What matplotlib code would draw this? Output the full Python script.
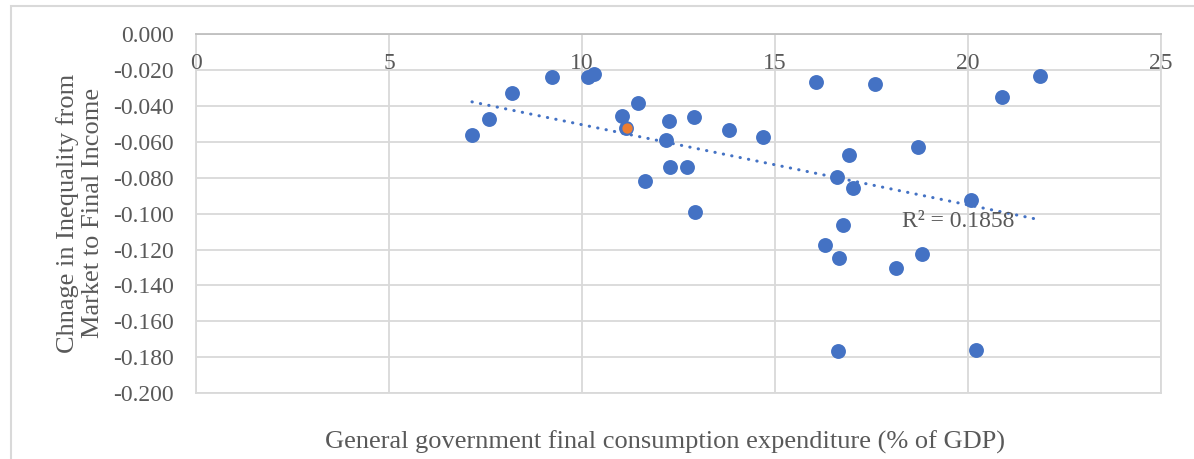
import numpy as np
import matplotlib
matplotlib.use("Agg")
import matplotlib.pyplot as plt
from matplotlib.patches import Rectangle

# data
spend = [7.15, 7.59, 8.19, 9.22, 10.16, 10.31, 11.04, 11.14, 11.45, 12.17,
         12.26, 12.91, 13.81, 14.70, 12.29, 12.71, 11.64, 12.93, 16.05, 17.60,
         20.88, 21.87, 16.92, 18.71, 16.61, 17.01, 20.07, 16.75, 16.30, 16.67,
         18.13, 18.82, 16.63, 20.22]
change = [-0.0562, -0.0472, -0.0328, -0.0238, -0.0238, -0.0221, -0.0456, -0.0522,
          -0.0385, -0.0589, -0.0485, -0.0463, -0.0534, -0.0571, -0.0742, -0.0742,
          -0.0816, -0.0993, -0.0264, -0.0279, -0.0351, -0.0233, -0.0673, -0.0630,
          -0.0794, -0.0855, -0.0924, -0.1062, -0.1173, -0.1245, -0.1301, -0.1223,
          -0.1764, -0.1758]
hl_spend = [11.16]
hl_change = [-0.0524]
x_ticks = [0, 5, 10, 15, 20, 25]
y_ticks = [0.0, -0.02, -0.04, -0.06, -0.08, -0.10, -0.12, -0.14, -0.16, -0.18, -0.20]
r2_label = "R² = 0.1858"

blue = "#4472C4"
orange = "#ED7D31"
grid = "#D9D9D9"
txt = "#595959"

plt.rcParams['font.family'] = ['Liberation Serif', 'DejaVu Serif']

fig = plt.figure(figsize=(11.94, 4.59), dpi=100)
ax = fig.add_axes([196/1194, 1-393/459, (1161-196)/1194, (393-34.3)/459])

ax.set_xlim(0, 25)
ax.set_ylim(-0.2, 0.0)
ax.set_xticks(x_ticks)
ax.set_yticks(y_ticks)
ax.set_yticklabels(["%.3f" % v for v in y_ticks])
ax.tick_params(axis='x', length=0, labelbottom=False)
ax.tick_params(axis='y', length=0, pad=16, labelsize=17, labelcolor=txt)
ax.grid(True, color=grid, lw=1.3)
ax.set_axisbelow(True)
for s in ax.spines.values():
    s.set_color(grid)
    s.set_linewidth(1.3)
ax.spines['top'].set_color("#BFBFBF")

# x tick labels sit just under the zero line
for t in x_ticks:
    ax.annotate(str(t), xy=(t, 0), xytext=(0, -21), textcoords='offset points',
                ha='center', va='center', fontsize=17, color=txt)

ax.scatter(spend, change, s=115, color=blue, zorder=3, linewidths=0)
ax.scatter(hl_spend, hl_change, s=55, color=orange, zorder=4, linewidths=0)

# linear trendline
k, b = np.polyfit(spend, change, 1)
xs = np.array([min(spend), max(spend)])
ax.plot(xs, k*xs + b, color=blue, lw=2.2, linestyle=(0, (0.1, 2.7)),
        dash_capstyle='round', zorder=2)
ax.text(18.3, -0.1045, r2_label, fontsize=17, color=txt, va='center')

fig.text(80/1194, 1-213/459, "Chnage in Inequality from\nMarket to Final Income",
         rotation=90, ha='center', va='center', fontsize=19, color=txt,
         linespacing=1.2)
fig.text(665/1194, 1-442/459, "General government final consumption expenditure (% of GDP)",
         ha='center', va='center', fontsize=19, color=txt)

fig.patches.append(Rectangle((11/1194, -0.2), 2, 1.2 - 6/459, transform=fig.transFigure,
                             fill=False, edgecolor=grid, lw=1.5))

fig.savefig("out.png", dpi=100)
